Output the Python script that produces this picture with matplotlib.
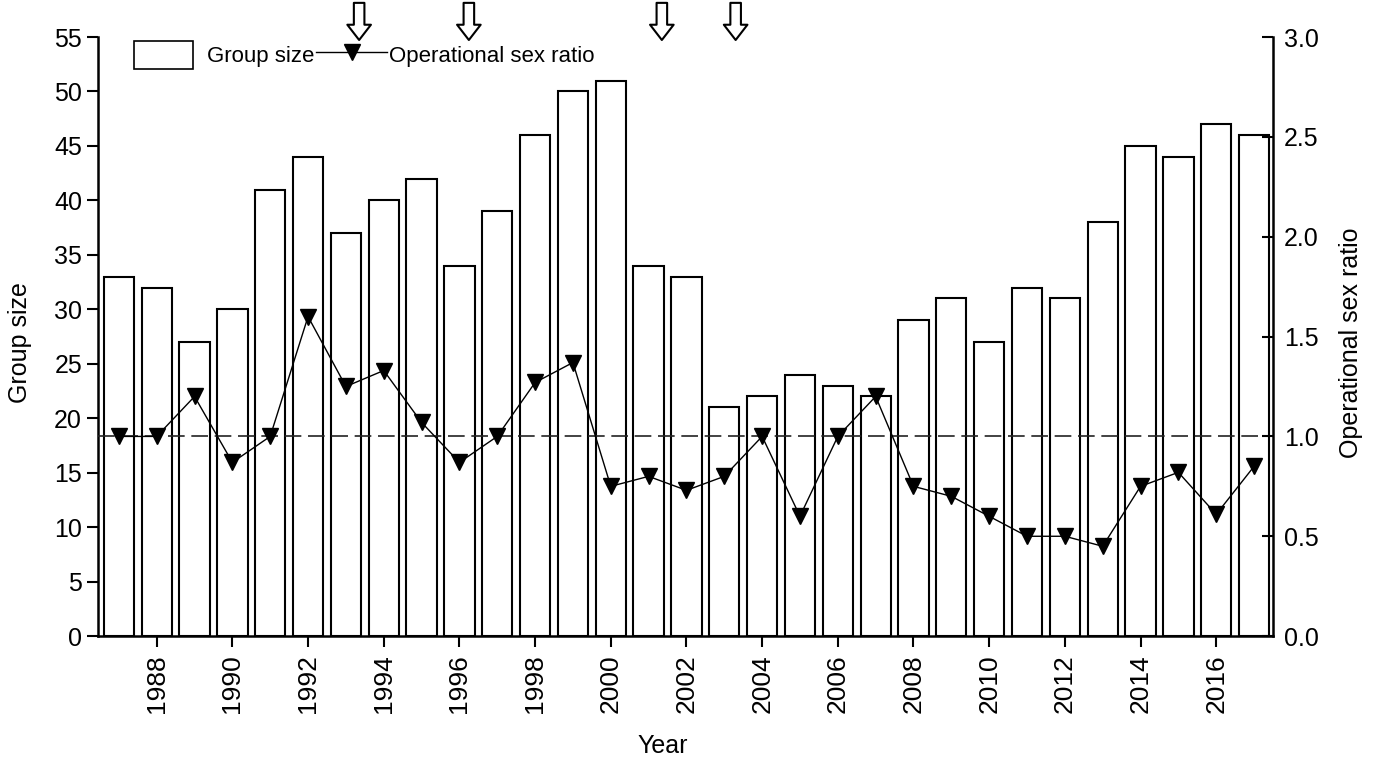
import matplotlib
matplotlib.use('Agg')
import matplotlib.pyplot as plt
from matplotlib.patches import Patch, Rectangle
from matplotlib.lines import Line2D
from matplotlib.legend_handler import HandlerPatch
from matplotlib.ticker import FormatStrFormatter

plt.rcParams['font.family'] = ['Liberation Sans', 'DejaVu Sans']

# ---- data ----
years = list(range(1987, 2018))
group_size = [33, 32, 27, 30, 41, 44, 37, 40, 42, 34, 39, 46, 50, 51, 34, 33,
              21, 22, 24, 23, 22, 29, 31, 27, 32, 31, 38, 45, 44, 47, 46]
osr = [1.0, 1.0, 1.2, 0.87, 1.0, 1.6, 1.25, 1.33, 1.07, 0.87, 1.0, 1.27, 1.37,
       0.75, 0.8, 0.73, 0.8, 1.0, 0.6, 1.0, 1.2, 0.75, 0.7, 0.6, 0.5, 0.5,
       0.45, 0.75, 0.82, 0.61, 0.85]
arrow_years = [1993.35, 1996.25, 2001.35, 2003.3]
osr_reference = 1.0
xtick_years = list(range(1988, 2017, 2))
left_ticks = list(range(0, 56, 5))
right_ticks = [0.0, 0.5, 1.0, 1.5, 2.0, 2.5, 3.0]

fig = plt.figure(figsize=(13.75, 7.6), dpi=100)
ax = fig.add_axes([0.0713, 0.163, 0.8545, 0.7883])

ax.bar(years, group_size, width=0.8, facecolor='white', edgecolor='black',
       linewidth=1.5, zorder=2)
ax.set_xlim(1986.45, 2017.5)
ax.set_ylim(0, 55)
ax.set_yticks(left_ticks)
ax.set_xticks(xtick_years)
ax.set_xticklabels([str(y) for y in xtick_years], rotation=90)
ax.tick_params(axis='y', labelsize=18, width=1.5, length=8, direction='out')
ax.tick_params(axis='x', labelsize=19, width=1.5, length=8, direction='out', pad=5)
ax.spines['top'].set_visible(False)
ax.spines['right'].set_visible(False)
for s in ['left', 'bottom']:
    ax.spines[s].set_linewidth(1.8)
ax.set_ylabel('Group size', fontsize=18)
ax.yaxis.set_label_coords(-0.056, 0.49)
ax.set_xlabel('Year', fontsize=18)
ax.xaxis.set_label_coords(0.481, -0.163)

ax2 = ax.twinx()
ax2.set_ylim(0, 3.0)
ax2.set_yticks(right_ticks)
ax2.yaxis.set_major_formatter(FormatStrFormatter('%.1f'))
ax2.axhline(osr_reference, color='#222222', linestyle=(0, (10, 4)), linewidth=1.2, zorder=1)
ax2.plot(years, osr, color='black', linewidth=1.0, marker='v', markersize=12,
         markerfacecolor='black', markeredgecolor='black', zorder=3)
ax2.tick_params(axis='y', labelsize=18, width=1.5, length=8, direction='in', pad=8)
ax2.spines['top'].set_visible(False)
ax2.spines['left'].set_visible(False)
ax2.spines['bottom'].set_visible(False)
ax2.spines['right'].set_linewidth(1.8)
ax2.set_ylabel('Operational sex ratio', fontsize=18)
ax2.yaxis.set_label_coords(1.056, 0.49)

# arrows above the plot
for xa in arrow_years:
    ax.annotate('', xy=(xa, 0.995), xycoords=('data', 'axes fraction'),
                xytext=(xa, 1.057), textcoords=('data', 'axes fraction'),
                arrowprops=dict(arrowstyle='simple,head_length=0.55,head_width=0.85,tail_width=0.38',
                                fc='white', ec='black', lw=1.5, mutation_scale=20,
                                shrinkA=0, shrinkB=0),
                annotation_clip=False)


def narrow_box(legend, orig_handle, xdescent, ydescent, width, height, fontsize):
    return Rectangle((-xdescent, -ydescent), width * 0.82, height)


handles = [Patch(facecolor='white', edgecolor='black', linewidth=1.2),
           Line2D([], [], color='black', linewidth=1.0, marker='v', markersize=11)]
ax.legend(handles, ['Group size', 'Operational sex ratio'], ncol=2,
          loc='upper left', bbox_to_anchor=(0.031, 0.993), frameon=False,
          fontsize=16, handlelength=3.2, handleheight=1.55, handletextpad=0.05,
          columnspacing=0.1, borderpad=0, borderaxespad=0,
          handler_map={Patch: HandlerPatch(patch_func=narrow_box)})

fig.savefig('out.png', dpi=100)
